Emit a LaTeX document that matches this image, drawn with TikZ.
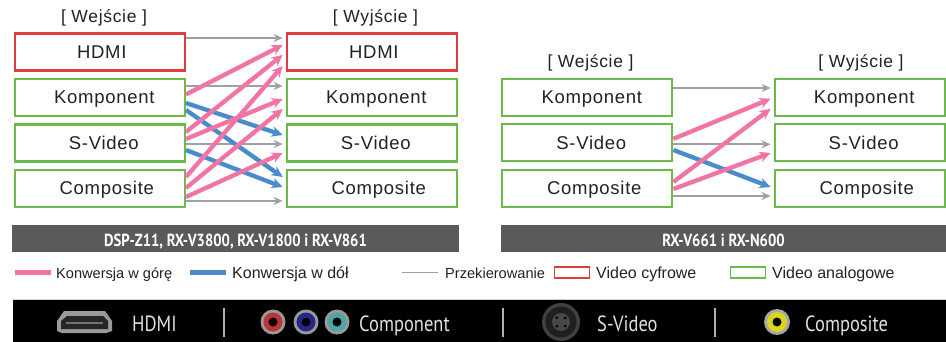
\documentclass[tikz,border=0pt]{standalone}
\usepackage{fontspec}
\setmainfont{Liberation Sans}
\newfontfamily\bodyf[LetterSpace=4]{Liberation Sans}
\newfontfamily\legf{Liberation Sans}
\newfontfamily\condf[FakeStretch=0.84]{PT Sans}
\usetikzlibrary{arrows.meta,calc}
\definecolor{cgreen}{HTML}{6CBB4A}
\definecolor{cred}{HTML}{DC3D3F}
\definecolor{cpink}{HTML}{F274A4}
\definecolor{cblue}{HTML}{4A8BCB}
\definecolor{cgray}{HTML}{A0A0A3}
\definecolor{cbar}{HTML}{5A5A5A}
\definecolor{ctext}{HTML}{222222}
\tikzset{
  x=1pt,y=-1pt,
  boxbase/.style={draw,line width=2.3pt,fill=white,minimum width=170pt,minimum height=37pt,inner sep=0pt,
    text height=13pt,text depth=0pt,text=ctext,font=\bodyf\fontsize{18.5}{18}\selectfont},
  digi/.style={boxbase,draw=cred},
  anal/.style={boxbase,draw=cgreen},
  head/.style={text=ctext,inner sep=0pt,font=\bodyf\fontsize{17.5}{18}\selectfont},
  graywire/.style={cgray,line width=1.6pt,-{Stealth[length=9pt,width=8pt]}},
  pinkwire/.style={cpink,line width=4.3pt,-{Stealth[length=11pt,width=10.5pt]}},
  bluewire/.style={cblue,line width=4.3pt,-{Stealth[length=11pt,width=10.5pt]}},
  barlabel/.style={fill=cbar,text=white,minimum height=27pt,inner sep=0pt,text height=17pt,text depth=0pt,font=\condf\bfseries\fontsize{17.5}{18}\selectfont},
  legtext/.style={anchor=west,inner sep=0pt,text=ctext,text height=11pt,text depth=3pt,font=\legf\fontsize{16}{16}\selectfont},
  legsmall/.style={legtext,font=\legf\fontsize{14.6}{16}\selectfont},
  striptext/.style={anchor=west,inner sep=0pt,text=white!88!black,text height=16pt,text depth=5pt,font=\condf\fontsize{22}{22}\selectfont},
}
\newcommand{\conn}[5]{\draw[#1] ($(#2.east)+(0,#3)$) -- ($(#4.west)+(-3,#5)$);}
\begin{document}
\begin{tikzpicture}
\useasboundingbox (0,0) rectangle (946,342);
\fill[white] (0,0) rectangle (946,342);
% left panel
\node[digi] (a1) at (99.8,52) {\hspace*{4pt}HDMI};
\node[anal] (a2) at (99.8,97.5) {\hspace*{9pt}Komponent};
\node[anal] (a3) at (99.8,143) {\hspace*{8pt}S-Video};
\node[anal] (a4) at (99.8,188.4) {\hspace*{14pt}Composite};
\node[digi] (b1) at (371.8,52) {\hspace*{4pt}HDMI};
\node[anal] (b2) at (371.8,97.5) {\hspace*{9pt}Komponent};
\node[anal] (b3) at (371.8,143) {\hspace*{8pt}S-Video};
\node[anal] (b4) at (371.8,188.4) {\hspace*{14pt}Composite};
\node[head] (ha) at (104,18) {[ Wejście ]};
\node[head] (hb) at (375.5,18) {[ Wyjście ]};
% gray
\conn{graywire}{a1}{-14}{b1}{-14}
\conn{graywire}{a2}{-11.5}{b2}{-11.5}
\conn{graywire}{a3}{1}{b3}{1}
\conn{graywire}{a4}{12.5}{b4}{12.5}
% blue
\conn{bluewire}{a2}{5.5}{b3}{-8}
\conn{bluewire}{a2}{12.5}{b4}{-11.4}
\conn{bluewire}{a3}{7}{b4}{-1.4}
% pink
\conn{pinkwire}{a2}{-3}{b1}{-7}
\conn{pinkwire}{a3}{-11}{b1}{3}
\conn{pinkwire}{a4}{-11.4}{b1}{14}
\conn{pinkwire}{a3}{-4}{b2}{1.5}
\conn{pinkwire}{a4}{-0.4}{b2}{11.5}
\conn{pinkwire}{a4}{8.6}{b3}{10}
% right panel
\node[anal] (c2) at (587.3,97.5) {\hspace*{9pt}Komponent};
\node[anal] (c3) at (587.3,142.8) {\hspace*{8pt}S-Video};
\node[anal] (c4) at (587.3,188.3) {\hspace*{14pt}Composite};
\node[anal] (d2) at (859.7,97.5) {\hspace*{9pt}Komponent};
\node[anal] (d3) at (859.7,142.8) {\hspace*{8pt}S-Video};
\node[anal] (d4) at (859.7,188.3) {\hspace*{14pt}Composite};
\node[head] (hc) at (590.5,63) {[ Wejście ]};
\node[head] (hd) at (861,63) {[ Wyjście ]};
\conn{graywire}{c2}{-9.5}{d2}{-9.5}
\conn{graywire}{c3}{1.5}{d3}{1.5}
\conn{graywire}{c4}{7.7}{d4}{7.7}
\conn{bluewire}{c3}{7.2}{d4}{-1.3}
\conn{pinkwire}{c3}{-4}{d2}{1.3}
\conn{pinkwire}{c4}{-6.3}{d2}{11.3}
\conn{pinkwire}{c4}{0.7}{d3}{10.2}
% bars
\node[barlabel,minimum width=447pt] (bar1) at (235.5,238.5) {DSP-Z11, RX-V3800, RX-V1800 i RX-V861};
\node[barlabel,minimum width=445pt] (bar2) at (723.5,238.5) {RX-V661 i RX-N600};
% legend
\node[fill=cpink,minimum width=36pt,minimum height=5pt,inner sep=0pt] (l1) at (33,272.5) {};
\node[legsmall] (t1) at (56,274) {Konwersja w górę};
\node[fill=cblue,minimum width=36pt,minimum height=5pt,inner sep=0pt] (l2) at (208,272.5) {};
\node[legtext] (t2) at (232,274) {Konwersja w dół};
\node[fill=cgray,minimum width=36pt,minimum height=1.2pt,inner sep=0pt] (l3) at (420,272.5) {};
\node[legsmall] (t3) at (445,274) {Przekierowanie};
\node[draw=cred,line width=1.8pt,minimum width=35pt,minimum height=11pt,inner sep=0pt] (l4) at (572,272.5) {};
\node[legtext] (t4) at (596,274) {Video cyfrowe};
\node[draw=cgreen,line width=1.8pt,minimum width=35pt,minimum height=11pt,inner sep=0pt] (l5) at (748,272.5) {};
\node[legtext] (t5) at (772,274) {Video analogowe};
% black strip
\draw[black!18,line width=0.8pt] (12,299.5) -- (946,299.5);
\fill[black] (13,300) rectangle (946,342);
\foreach \sx in {224,503,715}{\fill[black!30!white] (\sx-1,308) rectangle (\sx+1,337);}
% HDMI icon
\fill[black!40!white] (57,331) -- (57,321) -- (64,311) -- (105,311) -- (112,321) -- (112,331) -- (106,333) -- (62,333) -- cycle;
\fill[black!85!white] (61,329) -- (61,321) -- (67,316) -- (103,316) -- (108,321) -- (108,329) -- cycle;
\fill[black!55!white] (66,322) rectangle (103,324);
% RCA icons
\foreach \cx/\col in {273/cred!85!black,306/blue!45!black!85!white,337/teal!70!white}{
  \fill[black!40!white] (\cx,322) circle[radius=12.5];
  \fill[\col] (\cx,322) circle[radius=9.5];
  \fill[black] (\cx,322) circle[radius=4.5];
}
% S-video icon
\fill[black!75!white] (561,322) circle[radius=19];
\fill[black!88!white] (561,322) circle[radius=15.5];
\fill[black!72!white] (561,322) circle[radius=9];
\foreach \ang in {45,135,225,315}{\fill[black] (561,322) ++(\ang:6) circle[radius=1.5];}
% composite icon
\fill[black!35!white] (777,322) circle[radius=13];
\fill[yellow!85!black] (777,322) circle[radius=10];
\fill[black] (777,322) circle[radius=4.5];
% strip labels
\node[striptext] (s1) at (132,325.5) {HDMI};
\node[striptext] (s2) at (359,325.5) {Component};
\node[striptext] (s3) at (597,325.5) {S-Video};
\node[striptext] (s4) at (805,325.5) {Composite};
\end{tikzpicture}
\end{document}
